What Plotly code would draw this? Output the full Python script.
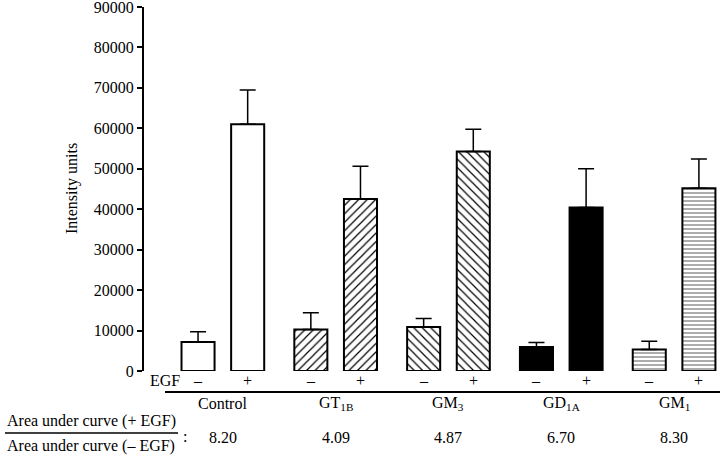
import plotly.graph_objects as go

# ---- data ----
groups = ["Control", "GT<sub>1B</sub>", "GM<sub>3</sub>", "GD<sub>1A</sub>", "GM<sub>1</sub>"]
minus_vals = [7200, 10250, 10900, 5950, 5300]
minus_err = [2500, 4150, 2100, 1080, 2060]
plus_vals = [61000, 42500, 54250, 40400, 45200]
plus_err = [8500, 8100, 5550, 9600, 7200]
ratios = ["8.20", "4.09", "4.87", "6.70", "8.30"]
y_ticks = [0, 10000, 20000, 30000, 40000, 50000, 60000, 70000, 80000, 90000]

# ---- styles ----
fill_colors = ["white", "white", "white", "black", "white"]
pattern_shapes = ["", "/", "\\", "", "-"]
pattern_fg = ["black", "black", "black", "black", "#444444"]
pattern_sizes = [6, 6, 6, 6, 4]
pattern_solid = [0.2, 0.2, 0.2, 0.2, 0.22]

FONT = "Liberation Serif"
offset = 0.22
bar_w = 0.293

fig = go.Figure()
for i in range(len(groups)):
    marker = dict(color=fill_colors[i], line=dict(color="black", width=2))
    if pattern_shapes[i]:
        marker["pattern"] = dict(shape=pattern_shapes[i], fgcolor=pattern_fg[i],
                                 bgcolor=fill_colors[i], size=pattern_sizes[i],
                                 solidity=pattern_solid[i], fillmode="replace")
    fig.add_trace(go.Bar(
        x=[i - offset, i + offset], y=[minus_vals[i], plus_vals[i]], width=bar_w,
        marker=marker,
        error_y=dict(type="data", symmetric=False, array=[minus_err[i], plus_err[i]],
                     arrayminus=[0, 0], color="black", thickness=1.5, width=8),
        showlegend=False,
    ))

YMAX = 90000
L, W = 144, 576
H = 364
T = 371 - H
def px_x(px):
    return (px - L) / W
def px_y(py):
    return (T + H - py) / H

tf = dict(size=16, family=FONT, color="black")
annotations = []
annotations.append(dict(text="EGF", x=px_x(165), y=px_y(381), xref="paper", yref="paper",
                        showarrow=False, font=tf, xanchor="center", yanchor="middle"))
for i in range(len(groups)):
    annotations.append(dict(text="–", x=i - offset, y=px_y(381), xref="x", yref="paper",
                            showarrow=False, font=tf, xanchor="center", yanchor="middle"))
    annotations.append(dict(text="+", x=i + offset, y=px_y(381), xref="x", yref="paper",
                            showarrow=False, font=tf, xanchor="center", yanchor="middle"))
    annotations.append(dict(text=groups[i], x=i, y=px_y(404), xref="x", yref="paper",
                            showarrow=False, font=tf, xanchor="center", yanchor="middle"))
    annotations.append(dict(text=ratios[i], x=i, y=px_y(437), xref="x", yref="paper",
                            showarrow=False, font=tf, xanchor="center", yanchor="middle"))
annotations.append(dict(text="Area under curve (+ EGF)", x=px_x(91), y=px_y(421),
                        xref="paper", yref="paper", showarrow=False, font=tf,
                        xanchor="center", yanchor="middle"))
annotations.append(dict(text="Area under curve (– EGF)", x=px_x(91), y=px_y(446),
                        xref="paper", yref="paper", showarrow=False, font=tf,
                        xanchor="center", yanchor="middle"))
annotations.append(dict(text=":", x=px_x(185), y=px_y(436), xref="paper", yref="paper",
                        showarrow=False, font=tf, xanchor="center", yanchor="middle"))
annotations.append(dict(text="Intensity units", x=px_x(72), y=px_y(189), xref="paper", yref="paper",
                        showarrow=False, textangle=-90, font=tf,
                        xanchor="center", yanchor="middle"))

shapes = [
    dict(type="line", xref="paper", yref="paper", x0=px_x(165), x1=1.0,
         y0=px_y(392), y1=px_y(392), line=dict(color="black", width=2)),
    dict(type="line", xref="paper", yref="paper", x0=px_x(5), x1=px_x(178),
         y0=px_y(433), y1=px_y(433), line=dict(color="black", width=1.5)),
]

fig.update_layout(
    width=720, height=461,
    margin=dict(l=L, r=0, t=T, b=461 - T - H, pad=0),
    paper_bgcolor="white", plot_bgcolor="white",
    barmode="overlay",
    font=dict(family=FONT, size=16, color="black"),
    xaxis=dict(range=[-0.699, 4.407], visible=False, fixedrange=True),
    yaxis=dict(range=[0, YMAX], tickvals=y_ticks, ticktext=[str(v) for v in y_ticks],
               showline=True, linecolor="black", linewidth=2,
               ticks="outside", ticklen=5, tickwidth=2, tickcolor="black",
               ticklabeloverflow="allow",
               showgrid=False, zeroline=False, tickfont=tf),
    annotations=annotations,
    shapes=shapes,
)

fig.write_html("out.html", config={"displayModeBar": False},
               post_script="document.body.style.margin='0';document.body.style.padding='0';")
